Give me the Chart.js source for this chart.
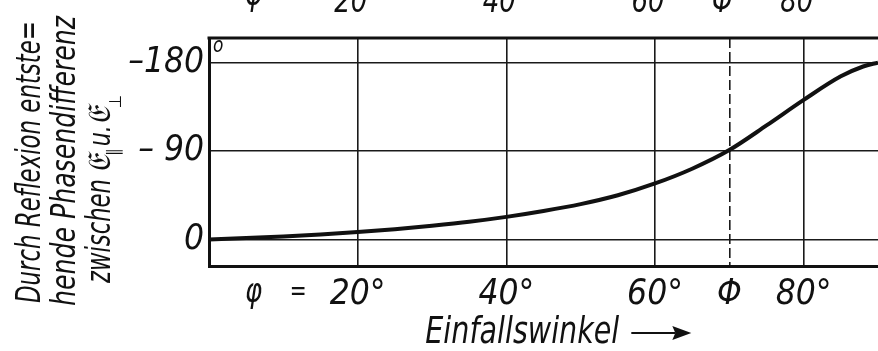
<!DOCTYPE html>
<html>
<head>
<meta charset="utf-8">
<script src="https://cdn.jsdelivr.net/npm/chart.js@4.4.1/dist/chart.umd.min.js"></script>
<style>
  html, body { margin: 0; padding: 0; background: #fff; }
  #wrap { width: 878px; height: 351px; }
</style>
</head>
<body>
<div id="wrap"><canvas id="phase-chart" width="878" height="351"></canvas></div>
<script>
// angle of incidence (deg) and phase difference (deg)
var angles     = [0, 5, 10, 15, 20, 25, 30, 35, 40, 45, 50, 55, 60, 65, 70, 75, 80, 85, 88, 90];
var phaseDiff  = [0, 1.5, 3, 5, 7.5, 10.5, 14, 18, 23, 29, 36, 45, 57, 72, 91, 116, 142, 166, 176, 180];
var xTicks     = [20, 40, 60, 70, 80];
var xTickLabels = ['20°', '40°', '60°', 'Φ', '80°'];
var yTicks     = [0, 90, 180];
var yTickLabels = ['0', '– 90', '–180'];
var PHI = 70;
var yTitleLines = ['Durch Reflexion entste=', 'hende Phasendifferenz'];

var FONT = "'Liberation Sans Narrow', 'DejaVu Sans Condensed', 'DejaVu Sans', sans-serif";
var INK = '#111';

// draw italic text squeezed horizontally; fit > 0 forces that width
function condensedText(ctx, str, x, y, size, sx, align, fit) {
    ctx.save();
    ctx.font = 'italic ' + size + 'px ' + FONT;
    ctx.textBaseline = 'alphabetic';
    var raw = ctx.measureText(str).width;
    if (fit) { sx = fit / raw; }
    var w = raw * sx;
    var x0 = align === 'center' ? x - w / 2 : (align === 'right' ? x - w : x);
    ctx.translate(x0, y);
    ctx.scale(sx, 1);
    ctx.textAlign = 'left';
    ctx.fillText(str, 0, 0);
    ctx.restore();
    return w;
}

var decorations = {
    id: 'decorations',
    afterDraw: function (chart) {
        var ctx = chart.ctx, a = chart.chartArea, xs = chart.scales.x;
        ctx.save();
        ctx.fillStyle = INK;
        ctx.strokeStyle = INK;
        // top frame
        ctx.lineWidth = 3;
        ctx.beginPath();
        ctx.moveTo(a.left - 1.5, a.top);
        ctx.lineTo(a.right, a.top);
        ctx.stroke();
        // degree sign of the 180 label
        condensedText(ctx, 'o', a.left + 4, a.top + 14, 21, 0.9, 'left');
        // "φ =" in front of the x ticks
        condensedText(ctx, 'φ', xs.getPixelForValue(6), 302, 34, 0.85, 'center');
        condensedText(ctx, '=', xs.getPixelForValue(12), 300, 28, 0.8, 'center');
        // x-axis title
        var tx = xs.getPixelForValue(29.1);
        var tw = condensedText(ctx, 'Einfallswinkel', tx, 343, 38, 0, 'left', 194);
        var ax = tx + tw + 12;
        ctx.lineWidth = 2;
        ctx.beginPath(); ctx.moveTo(ax, 333); ctx.lineTo(ax + 44, 333); ctx.stroke();
        ctx.beginPath(); ctx.moveTo(ax + 60, 333); ctx.lineTo(ax + 41, 326); ctx.lineTo(ax + 44, 333); ctx.lineTo(ax + 41, 340); ctx.closePath(); ctx.fill();
        // clipped labels of the figure above
        xTicks.forEach(function (v, i) {
            condensedText(ctx, xTickLabels[i].replace('°', ''), xs.getPixelForValue(v) - 7, 12, 34, 0.85, 'center');
        });
        condensedText(ctx, 'φ', xs.getPixelForValue(6), 5, 34, 0.85, 'center');
        // rotated y-axis title
        ctx.save();
        ctx.rotate(-Math.PI / 2);
        condensedText(ctx, yTitleLines[0], -162, 40, 33, 0, 'center', 282);
        condensedText(ctx, yTitleLines[1], -161, 75, 33, 0, 'center', 290);
        var w1 = condensedText(ctx, 'zwischen', -283, 110, 33, 0, 'left', 104);
        var px = -283 + w1 + 6;
        px += condensedText(ctx, '𝔈', px, 110, 32, 0.9, 'left');
        px += condensedText(ctx, '∥', px - 1, 119, 17, 1, 'left') + 1;
        px += condensedText(ctx, 'u.', px, 110, 31, 0.8, 'left');
        px += condensedText(ctx, '𝔈', px, 110, 32, 0.9, 'left');
        condensedText(ctx, '⊥', px - 1, 121, 17, 1, 'left');
        ctx.restore();
        ctx.restore();
    }
};

var points = angles.map(function (a, i) { return { x: a, y: phaseDiff[i] }; });

new Chart(document.getElementById('phase-chart'), {
    type: 'line',
    data: {
        datasets: [{
            data: points,
            borderColor: INK,
            borderWidth: 4,
            pointRadius: 0,
            fill: false,
            cubicInterpolationMode: 'monotone'
        }]
    },
    options: {
        responsive: false,
        animation: false,
        devicePixelRatio: 1,
        layout: { padding: { top: 38, right: 0, left: 0, bottom: 0 } },
        plugins: { legend: { display: false }, tooltip: { enabled: false } },
        scales: {
            x: {
                type: 'linear',
                min: 0,
                max: 90,
                afterBuildTicks: function (scale) { scale.ticks = xTicks.map(function (v) { return { value: v }; }); },
                afterFit: function (scale) { scale.height = 85; },
                ticks: {
                    autoSkip: false,
                    maxRotation: 0,
                    padding: 8,
                    color: INK,
                    font: { family: FONT, size: 35, style: 'italic' },
                    callback: function (v) { return xTickLabels[xTicks.indexOf(v)]; }
                },
                grid: { color: '#1a1a1a', lineWidth: 1.6, drawTicks: false },
                border: {
                    display: true, color: INK, width: 3,
                    dash: function (ctx) { return (ctx.tick && ctx.tick.value === PHI) ? [10, 4] : []; }
                }
            },
            y: {
                min: -27,
                max: 205,
                afterBuildTicks: function (scale) { scale.ticks = yTicks.map(function (v) { return { value: v }; }); },
                afterFit: function (scale) { scale.width = 209; },
                ticks: {
                    padding: 5,
                    color: INK,
                    font: { family: FONT, size: 35, style: 'italic' },
                    callback: function (v) { return yTickLabels[yTicks.indexOf(v)]; }
                },
                grid: { color: '#1a1a1a', lineWidth: 1.6, drawTicks: false },
                border: { display: true, color: INK, width: 3 }
            }
        }
    },
    plugins: [decorations]
});
</script>
</body>
</html>
